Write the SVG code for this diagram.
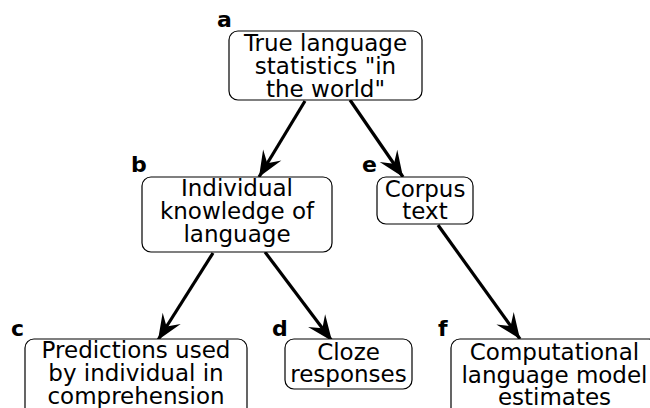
<svg xmlns="http://www.w3.org/2000/svg" width="650" height="408" viewBox="0 0 650 408">
<defs>
<marker id="ah" markerUnits="userSpaceOnUse" markerWidth="32" markerHeight="32" viewBox="-26 -13 30 26" refX="0" refY="0" orient="auto">
<path d="M0,0 L-24,-10 L-15,0 L-24,10 Z" fill="#000"/>
</marker>
</defs>
<style>
.box{fill:#fff;stroke:#000;stroke-width:1.2}
.t{font-family:"DejaVu Sans",sans-serif;font-size:23px;text-anchor:middle;fill:#000}
.lbl{font-family:"DejaVu Sans",sans-serif;font-size:22px;font-weight:bold;fill:#000}
.c{stroke:#000;stroke-width:3.2;fill:none;marker-end:url(#ah)}
</style>
<rect width="650" height="408" fill="#fff"/>
<g id="connectors">
<line class="c" x1="305" y1="101" x2="259" y2="177"/>
<line class="c" x1="350" y1="100" x2="403" y2="177"/>
<line class="c" x1="213" y1="253" x2="158" y2="340"/>
<line class="c" x1="265" y1="252" x2="332" y2="341"/>
<line class="c" x1="438" y1="225" x2="520" y2="339"/>
</g>
<g id="a">
<rect class="box" x="229" y="31" width="193" height="69" rx="9"/>
<text class="t" x="325.5" y="51">True language</text>
<text class="t" x="325.5" y="74">statistics "in</text>
<text class="t" x="325.5" y="97">the world"</text>
<text class="lbl" x="217" y="27">a</text>
</g>
<g id="b">
<rect class="box" x="142" y="177" width="190" height="75" rx="9"/>
<text class="t" x="237" y="196">Individual</text>
<text class="t" x="237" y="219">knowledge of</text>
<text class="t" x="237" y="242">language</text>
<text class="lbl" x="131" y="172">b</text>
</g>
<g id="e">
<rect class="box" x="377" y="177" width="96" height="47" rx="9"/>
<text class="t" x="425" y="197">Corpus</text>
<text class="t" x="425" y="219">text</text>
<text class="lbl" x="362" y="172">e</text>
</g>
<g id="c">
<rect class="box" x="25" y="339" width="222" height="80" rx="9"/>
<text class="t" x="136" y="358">Predictions used</text>
<text class="t" x="136" y="381">by individual in</text>
<text class="t" x="136" y="404">comprehension</text>
<text class="lbl" x="11" y="336">c</text>
</g>
<g id="d">
<rect class="box" x="285" y="339" width="127" height="50" rx="9"/>
<text class="t" x="348.5" y="360">Cloze</text>
<text class="t" x="348.5" y="382">responses</text>
<text class="lbl" x="272" y="336">d</text>
</g>
<g id="f">
<rect class="box" x="451" y="339" width="207" height="80" rx="9"/>
<text class="t" x="554.5" y="360">Computational</text>
<text class="t" x="554.5" y="383">language model</text>
<text class="t" x="554.5" y="405">estimates</text>
<text class="lbl" x="438" y="336">f</text>
</g>
</svg>
